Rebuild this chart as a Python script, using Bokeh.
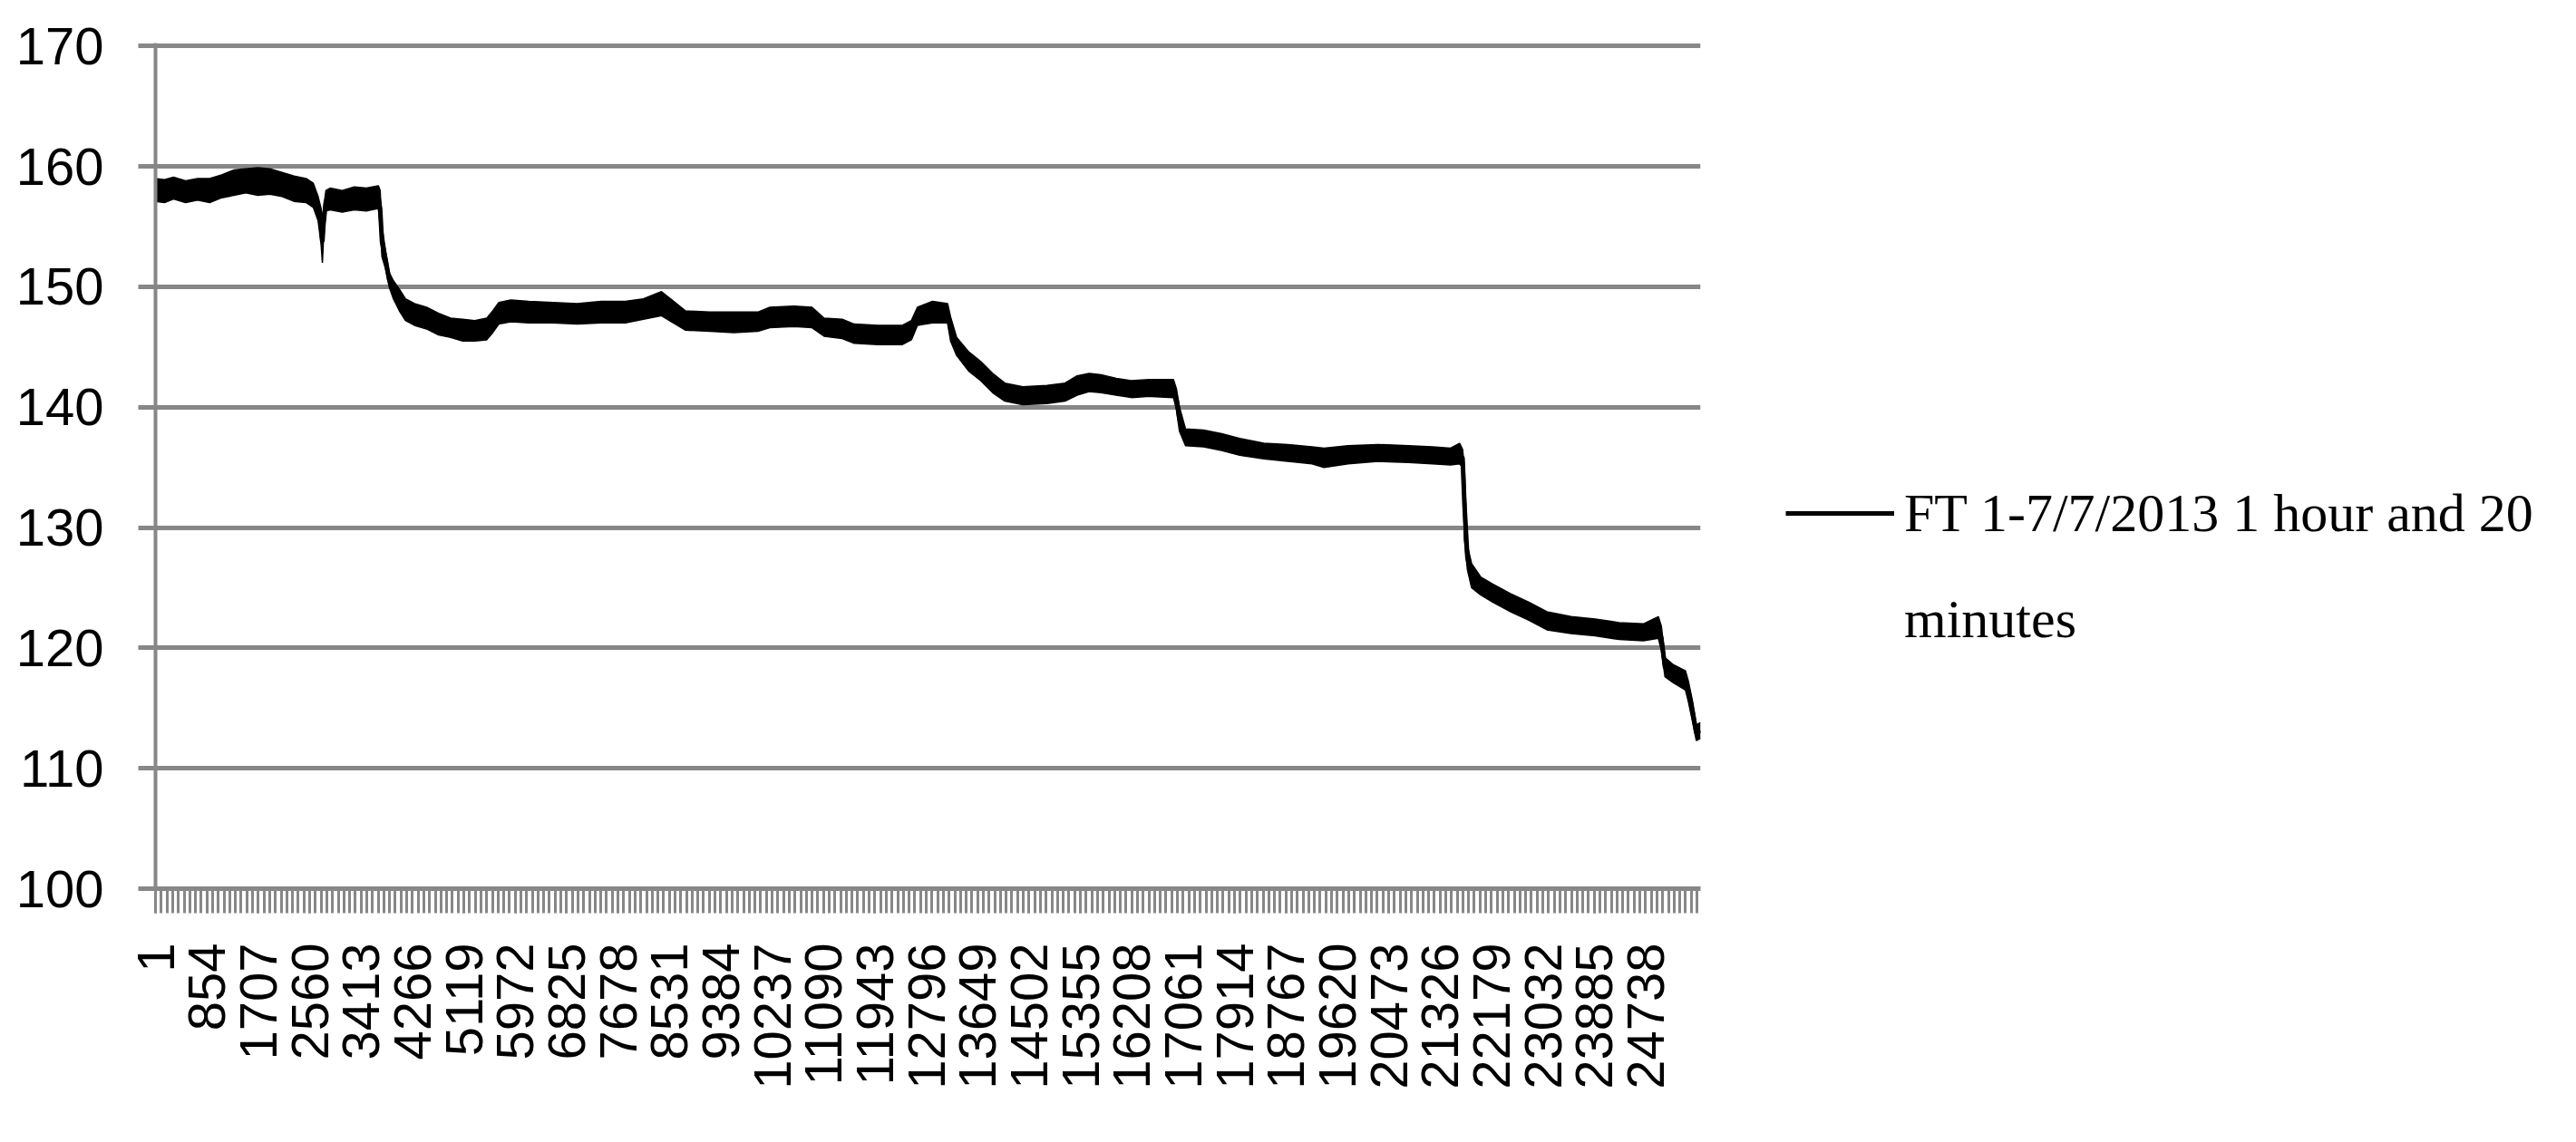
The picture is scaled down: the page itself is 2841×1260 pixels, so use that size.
import math
from bokeh.plotting import figure
from bokeh.models import Range1d, FixedTicker, Legend, LegendItem, ColumnDataSource
from bokeh.embed import file_html
from bokeh.resources import INLINE

# ---- data ----
x_labels = ["1", "854", "1707", "2560", "3413", "4266", "5119", "5972", "6825", "7678",
            "8531", "9384", "10237", "11090", "11943", "12796", "13649", "14502", "15355",
            "16208", "17061", "17914", "18767", "19620", "20473", "21326", "22179",
            "23032", "23885", "24738"]
y_ticks = [100, 110, 120, 130, 140, 150, 160, 170]
n_points = 25650
series_label = "FT 1-7/7/2013 1 hour and 20"
series_label_2 = "minutes"

# sample position (category index) and lower / upper edge of the noisy trace
idx = [1, 150, 300, 500, 700, 900, 1100, 1300, 1500, 1700, 1900, 2100, 2300, 2500, 2620,
       2700, 2750, 2771, 2790, 2830, 2900, 3100, 3300, 3500, 3700, 3730, 3760, 3820, 3880,
       3950, 4050, 4150, 4300, 4500, 4700, 4900, 5100, 5300, 5500, 5600, 5700, 5900, 6200,
       6600, 7000, 7400, 7800, 8100, 8400, 8600, 8800, 9200, 9600, 10000, 10200, 10600,
       10900, 11100, 11400, 11600, 12000, 12400, 12550, 12650, 12900, 13150, 13200, 13300,
       13500, 13700, 13900, 14100, 14400, 14800, 15100, 15300, 15500, 15700, 15950, 16200,
       16500, 16900, 16950, 17000, 17100, 17400, 17700, 18000, 18400, 18800, 19200, 19400,
       19800, 20300, 20800, 21200, 21500, 21650, 21700, 21730, 21780, 21850, 22000, 22200,
       22500, 22800, 23100, 23500, 23900, 24300, 24700, 24950, 25000, 25060, 25200, 25400,
       25450, 25520, 25580, 25650]
lo = [157.1, 157.0, 157.3, 157.0, 157.2, 157.0, 157.4, 157.6, 157.8, 157.6, 157.7, 157.5,
      157.1, 157.0, 156.6, 155.5, 153.5, 152.0, 154.0, 156.3, 156.4, 156.2, 156.4, 156.3,
      156.5, 155.0, 152.5, 151.5, 150.0, 149.0, 148.0, 147.2, 146.8, 146.5, 146.0, 145.8,
      145.5, 145.5, 145.6, 146.2, 146.9, 147.1, 147.0, 147.0, 146.9, 147.0, 147.0, 147.3,
      147.6, 147.0, 146.4, 146.3, 146.2, 146.3, 146.6, 146.7, 146.6, 145.9, 145.7, 145.3,
      145.2, 145.2, 145.6, 146.8, 147.0, 147.0, 145.5, 144.3, 143.0, 142.2, 141.2, 140.5,
      140.2, 140.3, 140.5, 141.0, 141.3, 141.2, 141.0, 140.8, 140.9, 140.8, 139.8, 138.0,
      136.8, 136.7, 136.4, 136.0, 135.7, 135.5, 135.3, 135.0, 135.3, 135.5, 135.4, 135.3,
      135.2, 135.3, 135.0, 129.0, 126.5, 125.0, 124.4, 123.8, 123.0, 122.3, 121.5, 121.2,
      121.0, 120.7, 120.6, 120.8, 119.8, 117.6, 117.1, 116.5, 115.5, 113.8, 112.3, 112.5]
hi = [159.0, 158.9, 159.1, 158.8, 159.0, 159.0, 159.3, 159.7, 159.8, 159.9, 159.8, 159.5,
      159.2, 159.0, 158.6, 157.5, 156.5, 155.5, 156.5, 158.0, 158.2, 158.0, 158.3, 158.2,
      158.4, 158.0, 155.0, 153.0, 151.2, 150.5, 149.8, 149.0, 148.6, 148.3, 147.8, 147.4,
      147.3, 147.2, 147.4, 148.0, 148.7, 148.9, 148.8, 148.7, 148.6, 148.8, 148.8, 149.0,
      149.6, 148.8, 148.0, 147.9, 147.9, 147.9, 148.3, 148.4, 148.3, 147.4, 147.3, 146.9,
      146.8, 146.8, 147.2, 148.3, 148.8, 148.6, 147.5, 145.8, 144.6, 143.8, 142.8, 142.0,
      141.7, 141.8, 142.0, 142.6, 142.8, 142.7, 142.4, 142.2, 142.3, 142.3, 141.5, 140.0,
      138.2, 138.1, 137.8, 137.4, 137.0, 136.9, 136.7, 136.6, 136.8, 136.9, 136.8, 136.7,
      136.6, 137.0, 136.5, 135.0, 128.5, 127.0, 125.9, 125.3, 124.5, 123.8, 123.0, 122.6,
      122.4, 122.1, 122.0, 122.6, 121.8, 119.2, 118.6, 118.1, 117.2, 115.5, 113.6, 113.8]

GRAY = "#878787"

p = figure(frame_width=1704, frame_height=933, output_backend="svg", toolbar_location=None,
           x_range=Range1d(0.5, n_points + 0.5), y_range=Range1d(100, 170.25),
           min_border_left=171, min_border_right=0, min_border_top=47,
           min_border_bottom=264)
p.outline_line_color = None
p.background_fill_color = "white"
p.border_fill_color = "white"

# grid
p.xgrid.visible = False
p.ygrid.grid_line_color = GRAY
p.ygrid.grid_line_width = 5

# y axis
p.yaxis.ticker = FixedTicker(ticks=y_ticks)
p.yaxis.axis_line_color = GRAY
p.yaxis.axis_line_width = 4
p.yaxis.major_tick_line_color = GRAY
p.yaxis.major_tick_line_width = 5
p.yaxis.major_tick_out = 19
p.yaxis.major_tick_in = 0
p.yaxis.minor_tick_line_color = None
p.yaxis.major_label_standoff = 38
p.yaxis.major_label_text_font = "Liberation Sans"
p.yaxis.major_label_text_font_size = "58px"
p.yaxis.major_label_text_color = "black"

# x axis (category axis with many points)
major = [int(s) for s in x_labels]
minor = [1 + k * 853.0 / 9.0 for k in range(int(n_points / (853.0 / 9.0)) + 1)]
p.xaxis.ticker = FixedTicker(ticks=major, minor_ticks=minor)
p.xaxis.major_label_overrides = {m: s for m, s in zip(major, x_labels)}
p.xaxis.axis_line_color = GRAY
p.xaxis.axis_line_width = 5
p.xaxis.major_tick_line_color = GRAY
p.xaxis.major_tick_line_width = 3
p.xaxis.major_tick_out = 27
p.xaxis.major_tick_in = 0
p.xaxis.minor_tick_line_color = GRAY
p.xaxis.minor_tick_line_width = 3
p.xaxis.minor_tick_out = 27
p.xaxis.minor_tick_in = 0
p.xaxis.major_label_orientation = math.pi / 2
p.xaxis.major_label_standoff = 33
p.xaxis.major_label_text_font = "Liberation Sans"
p.xaxis.major_label_text_font_size = "58px"
p.xaxis.major_label_text_color = "black"

# series: the noisy band, and the trace through its middle
mid = [(a + b) / 2.0 for a, b in zip(lo, hi)]
src = ColumnDataSource(dict(x=idx, lo=lo, hi=hi, mid=mid))
p.varea(x="x", y1="lo", y2="hi", source=src, fill_color="black")
p.line("x", "lo", source=src, line_color="black", line_width=1.5)
p.line("x", "hi", source=src, line_color="black", line_width=1.5)
trace = p.line("x", "mid", source=src, line_color="black", line_width=5)

# legend (in the right-hand panel)
blank = p.line(x=[], y=[], line_color="black", line_alpha=0)
legend = Legend(items=[LegendItem(label=series_label, renderers=[trace]),
                       LegendItem(label=series_label_2, renderers=[blank])],
                location=(94, 257), glyph_width=120, glyph_height=80, spacing=37,
                padding=0, margin=0, label_standoff=11,
                label_text_font="Liberation Serif", label_text_font_size="60px",
                label_text_color="black", border_line_alpha=0, background_fill_alpha=0)
p.add_layout(legend, "right")

open("out.html", "w").write(file_html(p, INLINE))
